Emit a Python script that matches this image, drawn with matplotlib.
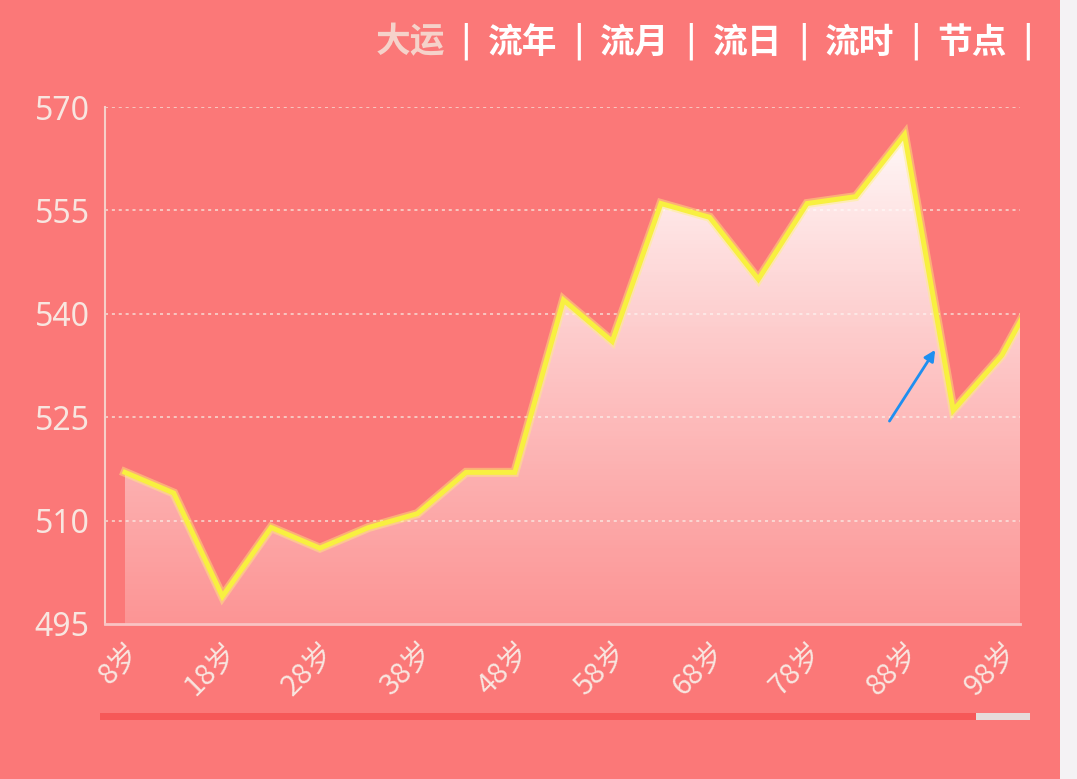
import numpy as np
import matplotlib
matplotlib.use("Agg")
from matplotlib import pyplot as plt
from matplotlib.patches import Rectangle, Polygon

plt.rcParams['font.family'] = ['Noto Sans CJK SC', 'DejaVu Sans']

# ages (every 5 years) and values
ages = [8, 13, 18, 23, 28, 33, 38, 43, 48, 53, 58, 63, 68, 73, 78, 83, 88, 93, 98, 103]
values = [517, 514, 499, 509, 506, 509, 511, 517, 517, 542,
          536, 556, 554, 545, 556, 557, 566, 526, 534, 547]
tick_ages = [8, 18, 28, 38, 48, 58, 68, 78, 88, 98]
tick_labels = [str(a) + '岁' for a in tick_ages]
y_ticks = [495, 510, 525, 540, 555, 570]
tabs = ['大运', '流年', '流月', '流日', '流时', '节点']

bg = '#FB7878'
txt = '#F8E6E0'

fig = plt.figure(figsize=(10.77, 7.79), dpi=100)
fig.patch.set_facecolor('#F4F2F4')
fig.patches.append(Rectangle((0, 0), 1060 / 1077, 1, transform=fig.transFigure,
                             facecolor=bg, edgecolor='none', zorder=-10))

ax = fig.add_axes([105 / 1077, 155 / 779, 915 / 1077, 517 / 779])
ax.set_facecolor('none')
ax.set_xlim(5.95, 99.85)
ax.set_ylim(495, 570)

# gradient fill under the line
grad = np.zeros((200, 2, 4))
alpha = np.linspace(0.95, 0.25, 200)
grad[:, :, 0] = 1.0
grad[:, :, 1] = np.linspace(1.0, 0.93, 200)[:, None]
grad[:, :, 2] = np.linspace(1.0, 0.93, 200)[:, None]
grad[:, :, 3] = alpha[:, None]
img = ax.imshow(grad, extent=[5.95, 103, 495, 566], aspect='auto', zorder=1,
                interpolation='bilinear')
poly = Polygon(list(zip(ages, values)) + [(ages[-1], 495), (ages[0], 495)],
               closed=True, transform=ax.transData, facecolor='none', edgecolor='none')
ax.add_patch(poly)
img.set_clip_path(poly)

# line with soft glow
ax.plot(ages, values, color='#FFF27A', lw=6.5, alpha=0.45, zorder=3,
        solid_joinstyle='miter')
ax.plot(ages, values, color='#F8F040', lw=3.6, zorder=4, solid_joinstyle='miter')

# grid
for v in y_ticks[1:]:
    ax.axhline(v, color='#F6DCD4', lw=1.1, ls=(0, (2, 2.5)), zorder=0.5)

for s in ['top', 'right']:
    ax.spines[s].set_visible(False)
ax.spines['left'].set_color('#F6CFC8')
ax.spines['left'].set_linewidth(1.5)
ax.spines['bottom'].set_color('#F9C4C4')
ax.spines['bottom'].set_linewidth(2)

ax.set_yticks(y_ticks)
ax.set_yticklabels([str(v) for v in y_ticks], fontsize=23, color=txt,
                   family=['Noto Sans', 'DejaVu Sans'])
ax.set_xticks(tick_ages)
ax.set_xticklabels(tick_labels, fontsize=21, color=txt, rotation=45,
                   ha='right', va='top', rotation_mode='anchor')
ax.tick_params(axis='both', length=0)
ax.tick_params(axis='y', pad=11)
ax.tick_params(axis='x', pad=9)

# blue arrow annotation
ax.annotate('', xy=(91.3, 535.1), xytext=(86.3, 524.1),
            arrowprops=dict(arrowstyle='-|>', color='#1E8FF0', lw=2,
                            mutation_scale=16), zorder=6)

# header tabs
for i, t in enumerate(tabs):
    x = (410 + i * 112.4) / 1077
    fig.text(x, 1 - 42 / 779, t, ha='center', va='center', fontsize=25,
             color='#F5D2CA' if i == 0 else 'white', weight='bold')
    fig.text(x + 56 / 1077, 1 - 41 / 779, '|', ha='center', va='center',
             fontsize=27, color='white', family=['DejaVu Sans'])

# slider bar
fig.patches.append(Rectangle((100 / 1077, 59 / 779), 876 / 1077, 7 / 779,
                             transform=fig.transFigure, facecolor='#F65858',
                             edgecolor='none'))
fig.patches.append(Rectangle((976 / 1077, 59 / 779), 54 / 1077, 7 / 779,
                             transform=fig.transFigure, facecolor='#E6DCDA',
                             edgecolor='none'))

fig.savefig('out.png', dpi=100, facecolor=fig.get_facecolor())
